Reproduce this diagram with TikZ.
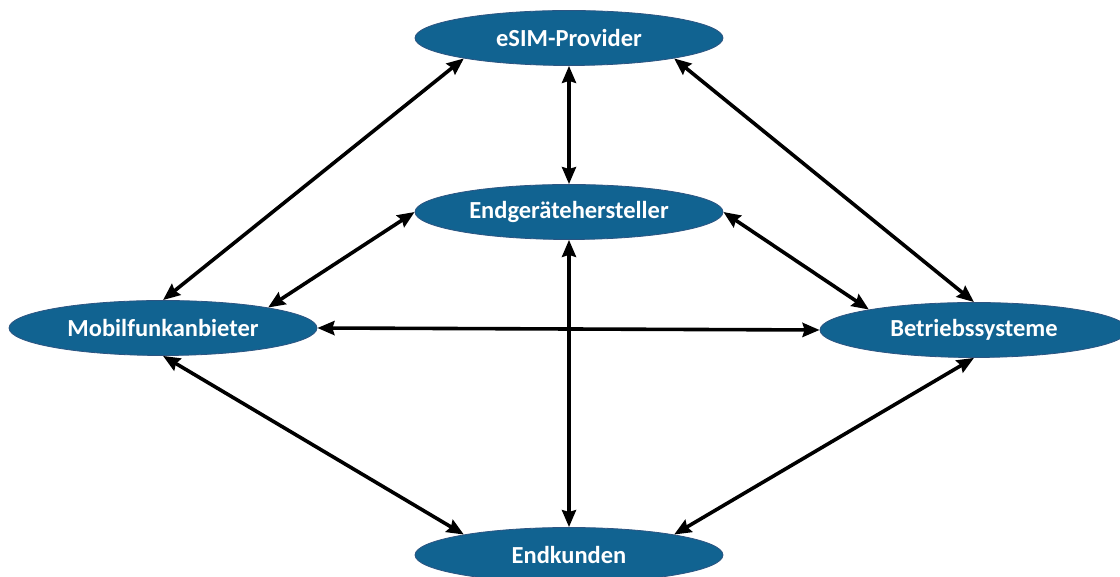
\documentclass[tikz,border=0pt]{standalone}
\usepackage{fontspec}
\setmainfont{Carlito}
\usetikzlibrary{shapes.geometric,arrows.meta}
\definecolor{nodeblue}{RGB}{17,99,145}
\definecolor{nodeedge}{RGB}{45,85,130}
\tikzset{
  actor/.style={ellipse, fill=nodeblue, draw=nodeedge, line width=0.8pt,
    minimum width=308pt, minimum height=55pt, inner sep=0pt,
    text=white, font=\fontsize{24.5}{28}\selectfont\bfseries},
  link/.style={line width=3.6pt, {Stealth[length=17pt,width=14pt,inset=2pt]}-{Stealth[length=17pt,width=14pt,inset=2pt]}}
}
\begin{document}
\begin{tikzpicture}[x=1pt,y=1pt]
\useasboundingbox (0,0) rectangle (1120,577);
\clip (0,0) rectangle (1120,577);
\node[actor] (esim) at (569,539) {eSIM-Provider};
\node[actor] (endg) at (569,365) {Endgerätehersteller};
\node[actor] (mobil) at (163,249) {Mobilfunkanbieter};
\node[actor] (betr) at (974,247) {Betriebssysteme};
\node[actor] (kund) at (569,22) {Endkunden};
\draw[link] (esim.191) -- (mobil.north);
\draw[link] (esim.349) -- (betr.north);
\draw[link] (esim.south) -- (endg.north);
\draw[link] (endg.west) -- (mobil.11);
\draw[link] (endg.east) -- (betr.169);
\draw[link] (mobil.east) -- (betr.west);
\draw[link] (endg.south) -- (kund.north);
\draw[link] (mobil.south) -- (kund.169);
\draw[link] (betr.south) -- (kund.11);
\end{tikzpicture}
\end{document}
